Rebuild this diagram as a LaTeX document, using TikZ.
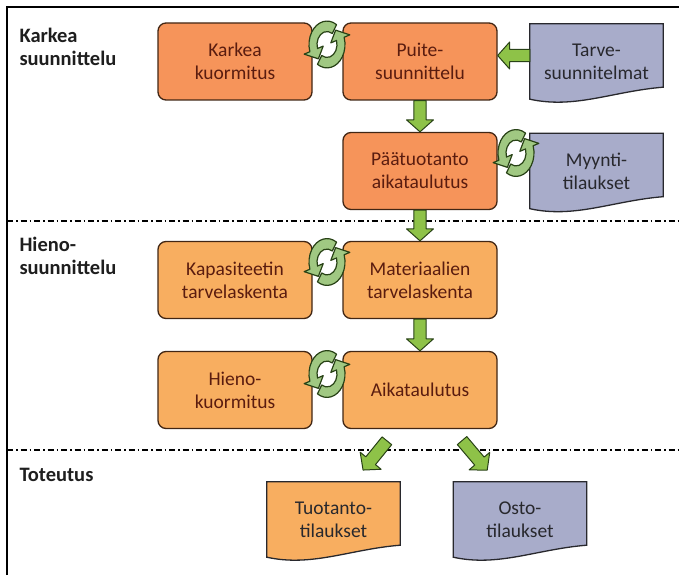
\documentclass[tikz,border=0pt]{standalone}
\usepackage{fontspec}
\setmainfont{Carlito}
\usetikzlibrary{calc,backgrounds}
\definecolor{korange}{RGB}{246,148,90}
\definecolor{horange}{RGB}{248,174,96}
\definecolor{docgray}{RGB}{168,172,202}
\definecolor{boxline}{RGB}{65,38,20}
\definecolor{boxtext}{RGB}{90,28,15}
\definecolor{docfg}{RGB}{40,40,45}
\definecolor{labelc}{RGB}{30,30,30}
\definecolor{agreen}{RGB}{142,194,72}
\definecolor{dgreen}{RGB}{40,66,22}
\definecolor{cgreen}{RGB}{160,200,130}
\newdimen\badx
\newdimen\bady
\makeatletter
\newcommand\blockarr[3]{%
  \path (#1) coordinate (ba-s) (#2) coordinate (ba-e);
  \pgfpointdiff{\pgfpointanchor{ba-s}{center}}{\pgfpointanchor{ba-e}{center}}%
  \badx=\pgf@x \bady=\pgf@y
  \pgfmathsetmacro\baang{atan2(\bady,\badx)}%
  \pgfmathsetmacro\balen{veclen(\badx,\bady)-2*#3}%
  \begin{scope}[shift={(ba-s)}, rotate=\baang, shift={(#3,0)}]
    \filldraw[garrow] (0,6.2) -- ({\balen-12},6.2) -- ({\balen-12},13.5) -- (\balen,0)
      -- ({\balen-12},-13.5) -- ({\balen-12},-6.2) -- (0,-6.2) -- cycle;
  \end{scope}}
\makeatother
\tikzset{
  box/.style={draw=boxline, line width=1.3pt, rounded corners=8pt, minimum width=154pt,
    minimum height=77pt, align=center, text=boxtext, inner sep=0pt,
    font=\fontsize{19.5}{23}\selectfont},
  kbox/.style={box, fill=korange},
  hbox/.style={box, fill=horange},
  doc/.style={minimum width=133pt, minimum height=75pt, align=center, inner sep=0pt,
    text=docfg, font=\fontsize{19.5}{23}\selectfont},
  docshape/.style={draw=docfg, line width=1.3pt},
  lbl/.style={anchor=west, align=left, text=labelc, font=\bfseries\fontsize{20.5}{23}\selectfont},
  garrow/.style={fill=agreen, draw=dgreen, line width=1pt, line join=round},
  cycarr/.style={fill=cgreen, draw=dgreen, line width=1.2pt, line join=round},
  sepline/.style={line width=1.2pt, dash pattern=on 6pt off 3pt on 1.5pt off 3pt},
  cyc/.pic={
    \begin{scope}[yscale=1.3]
      \fill[white] (0,0) circle[radius=12];
      \foreach \a in {0,180}{
        \filldraw[cycarr] (\a+58:18) arc[start angle=\a+58, end angle=\a+198, radius=18]
          -- (\a+198:24) -- (\a+232:14) -- (\a+198:4) -- (\a+198:10)
          arc[start angle=\a+198, end angle=\a+58, radius=10] -- cycle;
      }
    \end{scope}
  }
}
\begin{document}
\begin{tikzpicture}[x=1pt,y=1pt]
\useasboundingbox (0,0) rectangle (679,575);
% frame
\draw[line width=2pt] (7,0) -- (7,568) -- (679,568);
\draw[sepline] (7,354) -- (679,354);
\draw[sepline] (7,125) -- (679,125);
% left labels
\node[lbl] (l1) at (16,528) {Karkea\\suunnittelu};
\node[lbl] (l2) at (16,319) {Hieno-\\suunnittelu};
\node[lbl] (l3) at (16,100) {Toteutus};
% boxes
\node[kbox] (karkea) at (235,513.5) {Karkea\\kuormitus};
\node[kbox] (puite) at (420,513.5) {Puite-\\suunnittelu};
\node[kbox] (paatuot) at (420,404) {Päätuotanto\\aikataulutus};
\node[hbox] (kapas) at (235,295) {Kapasiteetin\\tarvelaskenta};
\node[hbox] (materiaal) at (420,295) {Materiaalien\\tarvelaskenta};
\node[hbox] (hieno) at (235,185) {Hieno-\\kuormitus};
\node[hbox] (aika) at (420,185) {Aikataulutus};
% documents
\node[doc] (tarve) at (596.5,513.5) {Tarve-\\suunnitelmat};
\node[doc] (myynti) at (596.5,404) {Myynti-\\tilaukset};
\node[doc] (tuotanto) at (333.5,55.5) {Tuotanto-\\tilaukset};
\node[doc] (osto) at (520,55.5) {Osto-\\tilaukset};
\begin{scope}[on background layer]
\foreach \d/\c in {tarve/docgray, myynti/docgray, tuotanto/horange, osto/docgray}{
  \filldraw[docshape, fill=\c] (\d.north west) -- (\d.north east) -- ($(\d.south east)+(0,12)$)
    .. controls ($(\d.south east)+(-50,8)$) and ($(\d.south west)+(45,-10)$) .. (\d.south west) -- cycle;
}
\end{scope}
% block arrows
\blockarr{[yshift=6pt]tarve.west}{[yshift=6pt]puite.east}{0}
\blockarr{puite.south}{paatuot.north}{0}
\blockarr{paatuot.south}{materiaal.north}{0}
\blockarr{materiaal.south}{aika.north}{0}
\blockarr{$(aika.south west)+(54,0)$}{$(tuotanto.north)+(20,0)$}{15}
\blockarr{$(aika.south west)+(110,0)$}{$(osto.north)+(-23,0)$}{15}
% cycle icons
\pic at (327,530.5) {cyc};
\pic at (516,422) {cyc};
\pic at (327,313) {cyc};
\pic at (327,201) {cyc};
\end{tikzpicture}
\end{document}
